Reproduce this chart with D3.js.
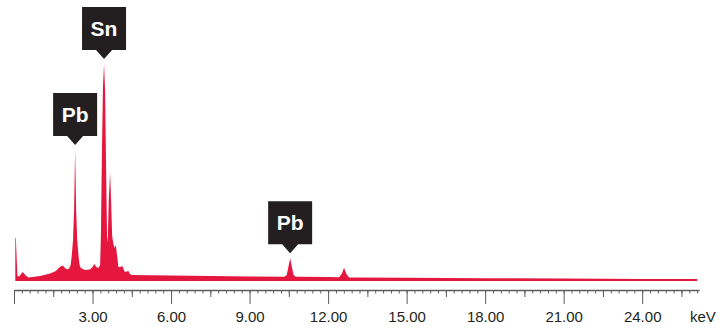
<!DOCTYPE html>
<html>
<head>
<meta charset="utf-8">
<script src="https://cdn.jsdelivr.net/npm/d3@7"></script>
<style>
  html, body { margin: 0; padding: 0; background: #fff; }
  svg { display: block; }
</style>
</head>
<body>
<svg id="chart" width="726" height="329"></svg>
<script>
// ---- data ----
const energyKeV = [0.05, 0.07, 0.13, 0.2, 0.33, 0.45, 0.55, 1.0, 1.38, 1.6, 1.75, 1.86, 1.95, 2.01, 2.08,
  2.115, 2.165, 2.205, 2.255, 2.295, 2.335, 2.375, 2.415, 2.465, 2.505, 2.555, 2.71, 2.9, 3.0, 3.07,
  3.14, 3.22, 3.29, 3.32, 3.36, 3.40, 3.44, 3.48, 3.52, 3.555, 3.58, 3.62, 3.67, 3.71, 3.75,
  3.79, 3.84, 3.89, 3.94, 3.99, 4.06, 4.14, 4.2, 4.24, 4.3, 4.37, 4.43, 4.5, 6, 9,
  10.33, 10.42, 10.49, 10.55, 10.61, 10.68, 10.77, 12, 12.42, 12.52, 12.61, 12.7, 12.8,
  15, 18, 21, 24, 26.1];
const intensity = [43, 43, 5, 4.5, 9, 5.5, 3.5, 5, 7.5, 10, 14, 15.5, 13, 11.7, 12,
  13, 16, 25, 41, 70, 131, 70, 41, 25, 16, 13, 11, 11.5, 14, 17,
  14, 13, 16, 45, 130, 195, 217, 190, 110, 45, 38, 80, 109, 80, 45,
  38, 33, 36, 25, 14, 14, 15, 11, 9, 9.5, 10, 7, 6, 5.5, 4.5,
  4.2, 6, 15, 22.7, 15, 6, 4.2, 4, 3.8, 7, 13.3, 7, 3.6,
  3.3, 2.8, 2.4, 2.1, 2];

const majorTicks = [0, 3, 6, 9, 12, 15, 18, 21, 24];
const mediumTicks = [1.5, 4.5, 7.5, 10.5, 13.5, 16.5, 19.5, 22.5, 25.5];
const minorTicks = d3.range(0, 88).map(i => i * 0.3);
const unitLabel = "keV";

const peakLabels = ["Sn", "Pb", "Pb"];
const peakEnergy = [3.44, 2.335, 10.55];
const peakHeight = [217, 131, 22.7];

// ---- layout ----
const svg = d3.select("#chart");
const x = d3.scaleLinear().domain([0, 26.17]).range([14, 699]);
const y = d3.scaleLinear().domain([0, 217]).range([281, 64]);
const axisY = 290;
const red = "#e5173f";
const ink = "#231f20";
const axisColor = "#5c5c5c";
const font = "'Liberation Sans', Arial, Helvetica, sans-serif";

const spectrum = energyKeV.map((e, i) => [e, intensity[i]]);

svg.append("path")
  .datum(spectrum)
  .attr("fill", red)
  .attr("d", d3.area()
    .x(d => x(d[0]))
    .y0(y(0))
    .y1(d => y(d[1]))
    .curve(d3.curveLinear));

// axes
const gMinor = svg.append("g").attr("transform", `translate(0,${axisY})`)
  .call(d3.axisBottom(x).tickValues(minorTicks).tickSize(3.5).tickSizeOuter(0).tickFormat(""));
gMinor.select(".domain").remove();
const gMed = svg.append("g").attr("transform", `translate(0,${axisY})`)
  .call(d3.axisBottom(x).tickValues(mediumTicks).tickSize(7).tickSizeOuter(0).tickFormat(""));
gMed.select(".domain").remove();
const fmt = d3.format(".2f");
const gMajor = svg.append("g").attr("transform", `translate(0,${axisY})`)
  .call(d3.axisBottom(x).tickValues(majorTicks).tickSize(14).tickSizeOuter(0).tickPadding(7)
    .tickFormat(d => d === 0 ? "" : fmt(d)));

svg.selectAll(".tick line").attr("stroke", axisColor).attr("stroke-width", 1);
gMajor.select(".domain").attr("stroke", axisColor).attr("stroke-width", 1.6);
gMajor.selectAll(".tick text")
  .attr("fill", ink)
  .style("font-family", font)
  .style("font-size", "15px");

svg.append("text")
  .attr("x", 690)
  .attr("y", 322)
  .attr("fill", ink)
  .style("font-family", font)
  .style("font-size", "15px")
  .text(unitLabel);

// peak labels
const boxW = 44, boxH = 43, triH = 9, triHalf = 8, gap = 5;
peakLabels.forEach((lab, i) => {
  const px = x(peakEnergy[i]);
  const tip = y(peakHeight[i]) - gap;
  const bottom = tip - triH;
  const top = bottom - boxH;
  svg.append("path")
    .attr("fill", ink)
    .attr("d", `M${px - boxW / 2},${top}H${px + boxW / 2}V${bottom}H${px + triHalf}L${px},${tip}L${px - triHalf},${bottom}H${px - boxW / 2}Z`);
  svg.append("text")
    .attr("x", px)
    .attr("y", (top + bottom) / 2)
    .attr("dy", "0.36em")
    .attr("text-anchor", "middle")
    .attr("fill", "#ffffff")
    .style("font-family", font)
    .style("font-weight", "bold")
    .style("font-size", "21px")
    .text(lab);
});
</script>
</body>
</html>
